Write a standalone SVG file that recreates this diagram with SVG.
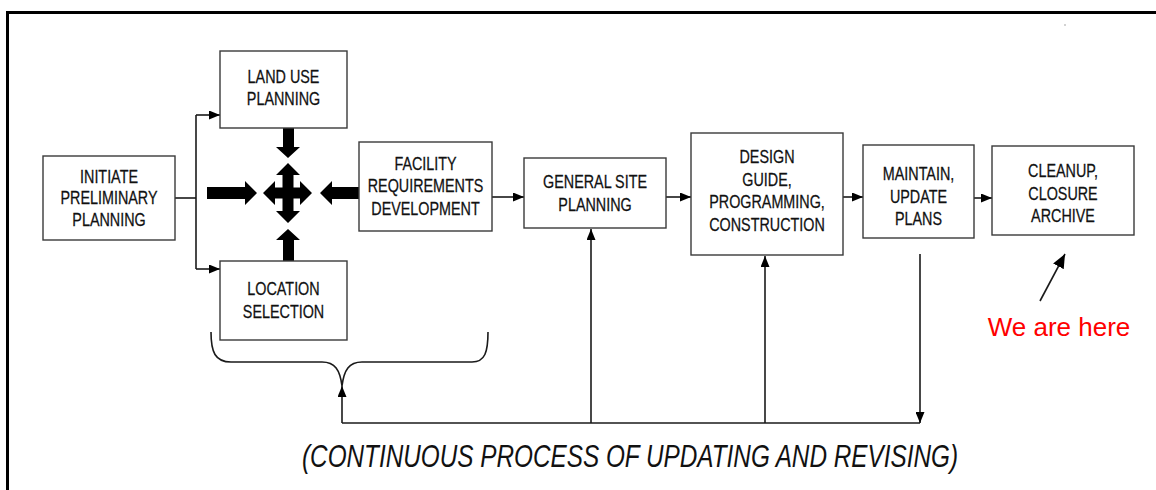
<svg xmlns="http://www.w3.org/2000/svg" width="1156" height="490" viewBox="0 0 1156 490">
  <style>
    .box { fill: #ffffff; stroke: #3a3a3a; stroke-width: 1.4; }
    .lbl { font-family: "Liberation Sans", Arial, sans-serif; font-size: 17.5px; fill: #111111; stroke: #111111; stroke-width: 0.25; text-anchor: middle; }
    .wire { fill: none; stroke: #1a1a1a; stroke-width: 1.6; }
    .block { fill: #000000; }
  </style>
  <defs>
    <marker id="head" viewBox="0 0 11 9" refX="11" refY="4.5" markerWidth="11" markerHeight="9" markerUnits="userSpaceOnUse" orient="auto">
      <path d="M0,0 L11,4.5 L0,9 Z" fill="#000000"/>
    </marker>
    <marker id="headBig" viewBox="0 0 14 12" refX="14" refY="6" markerWidth="14" markerHeight="12" markerUnits="userSpaceOnUse" orient="auto">
      <path d="M0,0 L14,6 L0,12 Z" fill="#000000"/>
    </marker>
  </defs>

  <rect width="1156" height="490" fill="#ffffff"/>

  <!-- frame -->
  <path d="M7.5,490 V12.5 H1156" fill="none" stroke="#000000" stroke-width="3"/>
  <circle cx="1065" cy="25" r="0.8" fill="#999999"/>

  <!-- connectors -->
  <g id="connectors">
    <path class="wire" d="M175,198 H196"/>
    <path class="wire" d="M196,115 V269"/>
    <path class="wire" d="M196,115 H220" marker-end="url(#head)"/>
    <path class="wire" d="M196,269 H220" marker-end="url(#head)"/>

    <!-- block arrows into the hub -->
    <polygon class="block" points="207,187 245,187 245,181 257,193 245,205 245,199 207,199"/>
    <polygon class="block" points="359,187 332,187 332,181 320,193 332,205 332,199 359,199"/>
    <polygon class="block" points="283,128 294,128 294,147 300,147 288,158 276,147 283,147"/>
    <polygon class="block" points="283,261 294,261 294,240 300,240 288,229 276,240 283,240"/>
    <!-- four-way hub -->
    <polygon class="block" points="288,163 300,175 293.5,175 293.5,187.5 300,187.5 300,181 312,193 300,205 300,198.5 293.5,198.5 293.5,211 300,211 288,223 276,211 282.5,211 282.5,198.5 275,198.5 275,205 263,193 275,181 275,187.5 282.5,187.5 282.5,175 276,175"/>

    <!-- main flow -->
    <path class="wire" d="M492,197 H524" marker-end="url(#head)"/>
    <path class="wire" d="M666,197 H691" marker-end="url(#head)"/>
    <path class="wire" d="M843,197 H863" marker-end="url(#head)"/>
    <path class="wire" d="M974,198 H992" marker-end="url(#head)"/>

    <!-- brace over the early planning steps -->
    <path class="wire" stroke-width="1.3" d="M211,332 C211,352 215,362 231,362 L322,362 C335,362 340,370 342,386 C344,370 349,362 362,362 L472,362 C485,362 488,352 488,332"/>

    <!-- feedback loop -->
    <path class="wire" d="M342,423 H920"/>
    <path class="wire" d="M342,423 V386" marker-end="url(#head)"/>
    <path class="wire" d="M591,423 V229" marker-end="url(#head)"/>
    <path class="wire" d="M765,423 V256" marker-end="url(#head)"/>
    <path class="wire" d="M920,254 V423" marker-end="url(#head)"/>

    <!-- pointer to current stage -->
    <path class="wire" stroke-width="2" d="M1040,301 L1065,254" marker-end="url(#headBig)"/>
  </g>

  <!-- nodes: labels set in a narrowed sans -->
  <g id="initiate">
    <rect class="box" x="43" y="156" width="132" height="84"/>
    <g transform="translate(109,0) scale(0.82,1)">
      <text class="lbl" x="0" y="183">INITIATE</text>
      <text class="lbl" x="0" y="204.5">PRELIMINARY</text>
      <text class="lbl" x="0" y="226">PLANNING</text>
    </g>
  </g>
  <g id="land-use">
    <rect class="box" x="220" y="51" width="127" height="77"/>
    <g transform="translate(283.5,0) scale(0.82,1)">
      <text class="lbl" x="0" y="83">LAND USE</text>
      <text class="lbl" x="0" y="105">PLANNING</text>
    </g>
  </g>
  <g id="location">
    <rect class="box" x="220" y="261" width="127" height="79"/>
    <g transform="translate(283.5,0) scale(0.82,1)">
      <text class="lbl" x="0" y="295">LOCATION</text>
      <text class="lbl" x="0" y="318">SELECTION</text>
    </g>
  </g>
  <g id="facility">
    <rect class="box" x="359" y="142" width="133" height="89"/>
    <g transform="translate(425.5,0) scale(0.82,1)">
      <text class="lbl" x="0" y="170">FACILITY</text>
      <text class="lbl" x="0" y="192.5">REQUIREMENTS</text>
      <text class="lbl" x="0" y="215">DEVELOPMENT</text>
    </g>
  </g>
  <g id="general-site">
    <rect class="box" x="524" y="158" width="142" height="70"/>
    <g transform="translate(595,0) scale(0.82,1)">
      <text class="lbl" x="0" y="188">GENERAL SITE</text>
      <text class="lbl" x="0" y="211">PLANNING</text>
    </g>
  </g>
  <g id="design">
    <rect class="box" x="691" y="133" width="152" height="122"/>
    <g transform="translate(767,0) scale(0.82,1)">
      <text class="lbl" x="0" y="163">DESIGN</text>
      <text class="lbl" x="0" y="186">GUIDE,</text>
      <text class="lbl" x="0" y="208.5">PROGRAMMING,</text>
      <text class="lbl" x="0" y="231">CONSTRUCTION</text>
    </g>
  </g>
  <g id="maintain">
    <rect class="box" x="863" y="145" width="111" height="93"/>
    <g transform="translate(918.5,0) scale(0.82,1)">
      <text class="lbl" x="0" y="180">MAINTAIN,</text>
      <text class="lbl" x="0" y="203">UPDATE</text>
      <text class="lbl" x="0" y="225">PLANS</text>
    </g>
  </g>
  <g id="cleanup">
    <rect class="box" x="992" y="146" width="142" height="89"/>
    <g transform="translate(1063,0) scale(0.82,1)">
      <text class="lbl" x="0" y="177">CLEANUP,</text>
      <text class="lbl" x="0" y="200">CLOSURE</text>
      <text class="lbl" x="0" y="222">ARCHIVE</text>
    </g>
  </g>

  <text x="1059" y="336" font-family="'Liberation Sans', Arial, sans-serif" font-size="26" fill="#ff0000" text-anchor="middle">We are here</text>

  <text x="302" y="467" font-family="'Liberation Sans', Arial, sans-serif" font-size="31" font-style="italic" fill="#111111" textLength="656" lengthAdjust="spacingAndGlyphs">(CONTINUOUS PROCESS OF UPDATING AND REVISING)</text>
</svg>
